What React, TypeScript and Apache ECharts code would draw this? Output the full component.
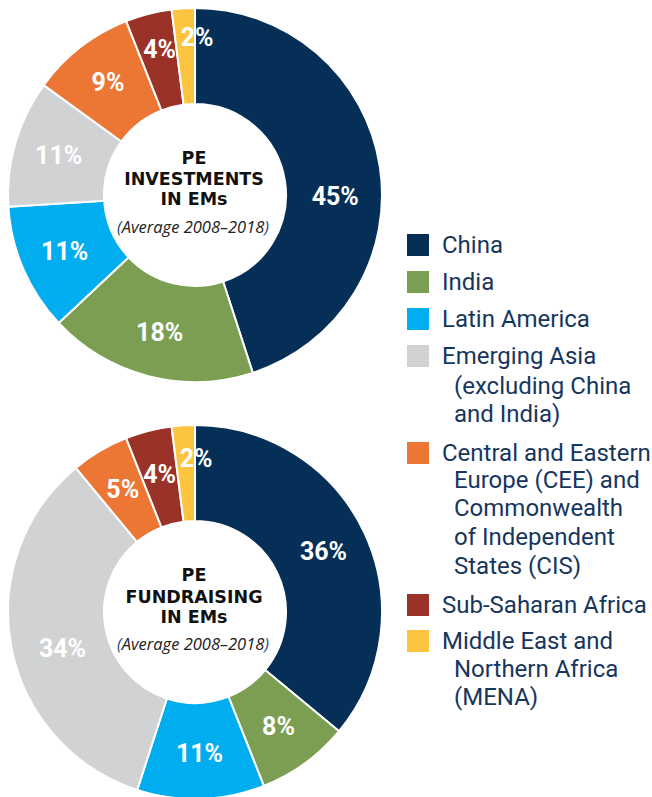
import React, { useEffect, useRef } from "react";
import * as echarts from "echarts";

const categories = [
  "China",
  "India",
  "Latin America",
  "Emerging Asia",
  "Central and Eastern",
  "Sub-Saharan Africa",
  "Middle East and",
];
const continuationLines = [
  [],
  [],
  [],
  ["(excluding China", "and India)"],
  ["Europe (CEE) and", "Commonwealth", "of Independent", "States (CIS)"],
  [],
  ["Northern Africa", "(MENA)"],
];
const investmentsShare = [45, 18, 11, 11, 9, 4, 2];
const fundraisingShare = [36, 8, 11, 34, 5, 4, 2];
const colors = ["#052f56", "#7b9e52", "#00aeef", "#d1d2d4", "#ec7735", "#9b3228", "#fdc43f"];

const LEG_FONT = 'Roboto, "Liberation Sans", sans-serif';
const TEXT_COLOR = "#17365d";

const legendTops = [233, 270, 307, 344, 441, 593, 629];
const contLineY: number[][] = [[], [], [], [386, 414], [480, 508, 537, 566], [], [669, 697]];

const topOffsets: Record<number, [number, number]> = { 0: [0, 24], 5: [0, -8], 6: [11, -16] };
const bottomOffsets: Record<number, [number, number]> = { 3: [7, 10], 6: [10, -12] };

export default function App() {
  const ref = useRef<HTMLDivElement>(null);
  useEffect(() => {
    if (!ref.current) return;
    const chart = echarts.init(ref.current, undefined, { renderer: "svg" });

    const makeData = (vals: number[]) =>
      vals.map((v, i) => ({ name: categories[i], value: v, itemStyle: { color: colors[i] } }));

    const pieBase = {
      type: "pie" as const,
      radius: [91, 187],
      startAngle: 90,
      clockwise: true,
      avoidLabelOverlap: false,
      itemStyle: { borderColor: "#ffffff", borderWidth: 2 },
      label: {
        show: true,
        position: "inside",
        formatter: "{c}%",
        color: "#ffffff",
        fontFamily: LEG_FONT,
        fontWeight: "bold",
        fontSize: 25,
      },
      labelLine: { show: false },
      emphasis: { disabled: true },
    };

    const legends = categories.map((name, i) => ({
      show: true,
      orient: "vertical",
      left: 407,
      top: legendTops[i],
      data: [name],
      selectedMode: false,
      itemWidth: 22,
      itemHeight: 22,
      icon: "rect",
      itemStyle: { borderWidth: 0 },
      padding: 0,
      textStyle: {
        color: TEXT_COLOR,
        fontFamily: LEG_FONT,
        fontSize: 24,
        padding: [0, 0, 0, 8],
      },
    }));

    const graphics: any[] = [];
    continuationLines.forEach((lines, i) => {
      lines.forEach((t, j) => {
        graphics.push({
          type: "text",
          x: 454,
          y: contLineY[i][j],
          style: {
            text: t,
            fill: TEXT_COLOR,
            font: `24px ${LEG_FONT}`,
            align: "left",
            textAlign: "left",
            verticalAlign: "middle",
            textVerticalAlign: "middle",
          },
        });
      });
    });

    const centerTitle = (lines: string[], ys: number[], italicY: number) => {
      lines.forEach((t, j) => {
        graphics.push({
          type: "text",
          x: 194,
          y: ys[j],
          style: {
            text: t,
            fill: "#111111",
            font: 'bold 17.5px "DejaVu Sans", sans-serif',
            align: "center",
            textAlign: "center",
            verticalAlign: "middle",
            textVerticalAlign: "middle",
          },
        });
      });
      graphics.push({
        type: "text",
        x: 193,
        y: italicY,
        style: {
          text: "{p|(}{t|Average 2008–2018}{p|)}",
          align: "center",
          textAlign: "center",
          verticalAlign: "middle",
          textVerticalAlign: "middle",
          rich: {
            p: { fill: "#1f4e79", color: "#1f4e79", font: 'italic 16.5px "Open Sans", sans-serif' },
            t: { fill: "#222222", color: "#222222", font: 'italic 16.5px "Open Sans", sans-serif' },
          },
        },
      });
    };
    centerTitle(["PE", "INVESTMENTS", "IN EMs"], [158, 179, 199], 226);
    centerTitle(["PE", "FUNDRAISING", "IN EMs"], [575, 597, 617], 643);

    chart.setOption({
      animation: false,
      legend: legends,
      series: [
        {
          ...pieBase,
          name: "PE Investments in EMs",
          center: [195, 195],
          data: makeData(investmentsShare),
          labelLayout: (p: any) => {
            const o = topOffsets[p.dataIndex];
            return o ? { dx: o[0], dy: o[1] } : {};
          },
        },
        {
          ...pieBase,
          name: "PE Fundraising in EMs",
          center: [195, 612],
          data: makeData(fundraisingShare),
          labelLayout: (p: any) => {
            const o = bottomOffsets[p.dataIndex];
            return o ? { dx: o[0], dy: o[1] } : {};
          },
        },
      ],
      graphic: graphics,
    });
    return () => chart.dispose();
  }, []);
  return (
    <div
      ref={ref}
      style={{ position: "fixed", left: 0, top: 0, width: 652, height: 797, background: "#ffffff" }}
    />
  );
}
